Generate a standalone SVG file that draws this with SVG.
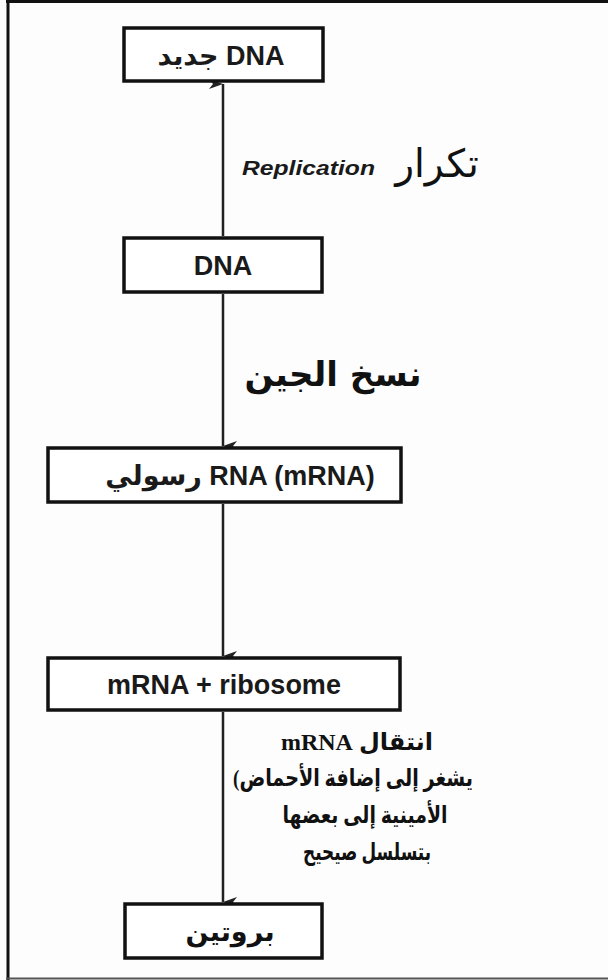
<svg xmlns="http://www.w3.org/2000/svg" width="608" height="980" viewBox="0 0 608 980">
<style>
.box{fill:#fff;stroke:#111;stroke-width:3.5}
.bt{font-family:"Liberation Sans","DejaVu Sans",sans-serif;font-weight:bold;font-size:27px;fill:#1a1a1a;text-anchor:middle}
.ar{font-family:"DejaVu Sans","Liberation Sans",sans-serif;fill:#111;text-anchor:middle}
.lb{font-family:"Liberation Serif","DejaVu Serif","DejaVu Sans",serif;font-weight:bold;font-size:24px;fill:#111;text-anchor:middle}
.cn{stroke:#222;stroke-width:2.5;fill:none}
</style>
<defs>
<marker id="ah" viewBox="0 0 10 14" refX="5" refY="14" markerWidth="10" markerHeight="14" markerUnits="userSpaceOnUse" orient="auto-start-reverse">
<path d="M0,0 L5,4 L10,0 L5,14 Z" fill="#222"/>
</marker>
</defs>
<rect x="0" y="0" width="608" height="980" fill="#fdfdfd"/>
<g id="frame">
<line x1="8" y1="0" x2="8" y2="980" stroke="#111" stroke-width="3"/>
<line x1="6" y1="1.5" x2="608" y2="1.5" stroke="#111" stroke-width="3"/>
<line x1="6" y1="978.5" x2="608" y2="978.5" stroke="#555" stroke-width="2"/>
</g>
<g id="connectors">
<path class="cn" d="M223,236 L223,84" marker-end="url(#ah)"/>
<path class="cn" d="M223,294 L223,446" marker-end="url(#ah)"/>
<path class="cn" d="M223,504 L223,656" marker-end="url(#ah)"/>
<path class="cn" d="M223,712 L223,902" marker-end="url(#ah)"/>
</g>
<g id="n1">
<rect class="box" x="124" y="28" width="199" height="53"/>
<text class="bt" x="221" y="65" direction="rtl">DNA جديد</text>
</g>
<g id="n2">
<rect class="box" x="124" y="238" width="198" height="54"/>
<text class="bt" x="223" y="275">DNA</text>
</g>
<g id="n3">
<rect class="box" x="48" y="448" width="353" height="54"/>
<text class="bt" x="240" y="485" direction="rtl">RNA (mRNA) رسولي</text>
</g>
<g id="n4">
<rect class="box" x="48" y="658" width="352" height="52"/>
<text class="bt" x="224" y="694">mRNA + ribosome</text>
</g>
<g id="n5">
<rect class="box" x="125" y="904" width="197" height="54"/>
<text class="ar" x="230" y="941" font-size="27" font-weight="bold">بروتين</text>
</g>
<g id="labels">
<text class="ar" x="437" y="177" font-size="39">تكرار</text>
<text x="242" y="175" font-family="'Liberation Sans',sans-serif" font-weight="bold" font-style="italic" font-size="21" fill="#1a1a1a" textLength="133" lengthAdjust="spacingAndGlyphs">Replication</text>
<text class="ar" x="333" y="386" font-size="34" font-weight="bold" direction="rtl">نسخ الجين</text>
<text class="lb" x="357" y="750" direction="rtl">انتقال mRNA</text>
<text class="lb" x="353" y="786" textLength="240" lengthAdjust="spacingAndGlyphs">(يشغر إلى إضافة الأحماض</text>
<text class="lb" x="365" y="823" direction="rtl" textLength="165" lengthAdjust="spacingAndGlyphs">الأمينية إلى بعضها</text>
<text class="lb" x="367" y="860" direction="rtl" textLength="128" lengthAdjust="spacingAndGlyphs">بتسلسل صيحيح</text>
</g>
</svg>
